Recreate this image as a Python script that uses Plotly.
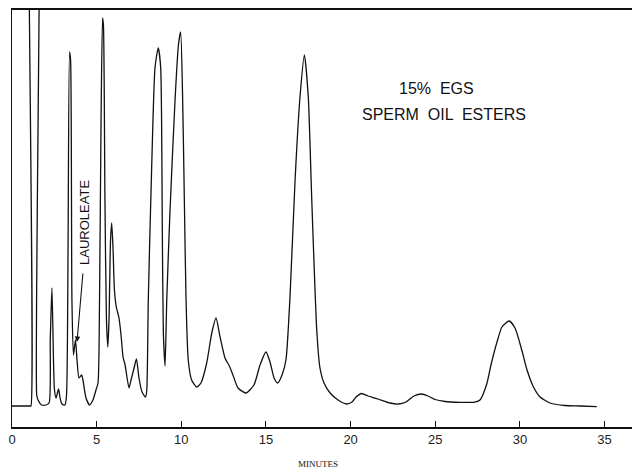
import plotly.graph_objects as go

# retention time (minutes)
time_min = [
    0.00, 1.06, 1.12, 1.15, 1.42, 1.46, 1.54, 1.75, 2.01, 2.19,
    2.26, 2.29, 2.36, 2.45, 2.51, 2.60, 2.75, 2.84, 2.95, 3.13,
    3.22, 3.31, 3.40, 3.46, 3.54, 3.63, 3.75, 3.84, 3.96, 4.11,
    4.19, 4.37, 4.58, 4.78, 4.96, 5.08, 5.17, 5.26, 5.35, 5.40,
    5.49, 5.58, 5.66, 5.73, 5.82, 5.89, 5.97, 6.05, 6.16, 6.32,
    6.44, 6.56, 6.68, 6.91, 7.03, 7.21, 7.35, 7.50, 7.68, 7.89,
    7.96, 8.05, 8.25, 8.45, 8.64, 8.78, 8.88, 8.94, 9.04, 9.14,
    9.33, 9.63, 9.83, 9.96, 10.08, 10.18, 10.28, 10.41, 10.61, 10.91,
    11.16, 11.50, 11.80, 12.05, 12.29, 12.58, 12.84, 13.05, 13.35, 13.82,
    14.29, 14.65, 15.00, 15.24, 15.48, 15.69, 15.95, 16.18, 16.42, 16.72,
    17.01, 17.27, 17.50, 17.70, 18.00, 18.19, 18.43, 18.79, 19.26, 19.77,
    20.08, 20.32, 20.65, 21.03, 21.62, 22.33, 22.82, 23.27, 23.74, 24.20,
    24.57, 24.99, 25.58, 26.46, 27.25, 27.64, 28.04, 28.29, 28.63, 28.94,
    29.37, 29.71, 30.11, 30.42, 30.80, 31.19, 31.78, 32.66, 33.55, 34.54,
]
# detector response (arbitrary units); the solvent peak runs off scale
response = [
    21, 21, 21, 900, 900, 32, 27, 22, 22, 24,
    87, 105, 139, 67, 37, 29, 38, 29, 23, 22,
    32, 177, 375, 367, 127, 72, 87, 67, 49, 52,
    47, 29, 22, 27, 37, 44, 127, 307, 409, 402,
    227, 107, 80, 107, 187, 204, 177, 137, 120, 109,
    92, 70, 62, 39, 47, 59, 68, 49, 35, 30,
    37, 127, 260, 360, 379, 360, 194, 94, 61, 127,
    215, 327, 382, 395, 327, 227, 127, 67, 47, 40,
    44, 64, 94, 109, 90, 69, 61, 52, 39, 34,
    42, 62, 75, 65, 49, 44, 52, 67, 130, 247,
    330, 372, 330, 230, 97, 59, 44, 34, 27, 23,
    25, 30, 33.5, 31, 28, 24, 23, 25, 31, 33,
    31, 27.5, 25.5, 24.7, 24.7, 27, 43, 62, 84, 100,
    106, 99, 77, 57, 40, 30, 24, 21.5, 21, 20.3,
]

tick_vals = [0, 5, 10, 15, 20, 25, 30, 35]
tick_text = ["0", "5", "10", "15", "20", "25", "30", "35"]

fig = go.Figure()
fig.add_trace(go.Scatter(
    x=time_min, y=response, mode="lines",
    line=dict(color="#111111", width=1.3, shape="spline", smoothing=0.6),
    hoverinfo="skip", showlegend=False,
))

fig.update_layout(
    width=632, height=476,
    margin=dict(l=12, r=0, t=10, b=49),
    paper_bgcolor="white", plot_bgcolor="white",
    font=dict(family="Liberation Sans, Arial, sans-serif", color="#111111"),
    xaxis=dict(
        range=[0, 36.62], tickvals=tick_vals, ticktext=tick_text,
        ticks="inside", ticklen=6, tickwidth=1.2, tickcolor="#111111",
        showline=True, linecolor="#111111", linewidth=1.5, mirror=True,
        showgrid=False, zeroline=False,
        tickfont=dict(size=13, color="#222222"),
    ),
    yaxis=dict(
        range=[0, 417], showticklabels=False, ticks="",
        showline=True, linecolor="#111111", linewidth=1.2,
        showgrid=False, zeroline=False,
    ),
    annotations=[
        dict(x=25.09, y=339, xref="x", yref="y", text="15%  EGS",
             showarrow=False, font=dict(size=16, color="#111111")),
        dict(x=25.52, y=313, xref="x", yref="y", text="SPERM  OIL  ESTERS",
             showarrow=False, font=dict(size=16, color="#111111")),
        dict(x=4.25, y=205, xref="x", yref="y", text="LAUROLEATE",
             textangle=-90, showarrow=False, font=dict(size=13, color="#111111")),
        dict(x=3.84, y=85, xref="x", yref="y", text="", showarrow=True,
             ax=6, ay=-70, arrowhead=2, arrowsize=1, arrowwidth=1.1,
             arrowcolor="#111111", standoff=0),
        dict(x=0.4935, y=-0.0887, xref="paper", yref="paper", text="MINUTES",
             showarrow=False, yanchor="middle",
             font=dict(family="Liberation Serif, Times New Roman, serif", size=9, color="#111111")),
    ],
)

fig.write_html("out.html")
